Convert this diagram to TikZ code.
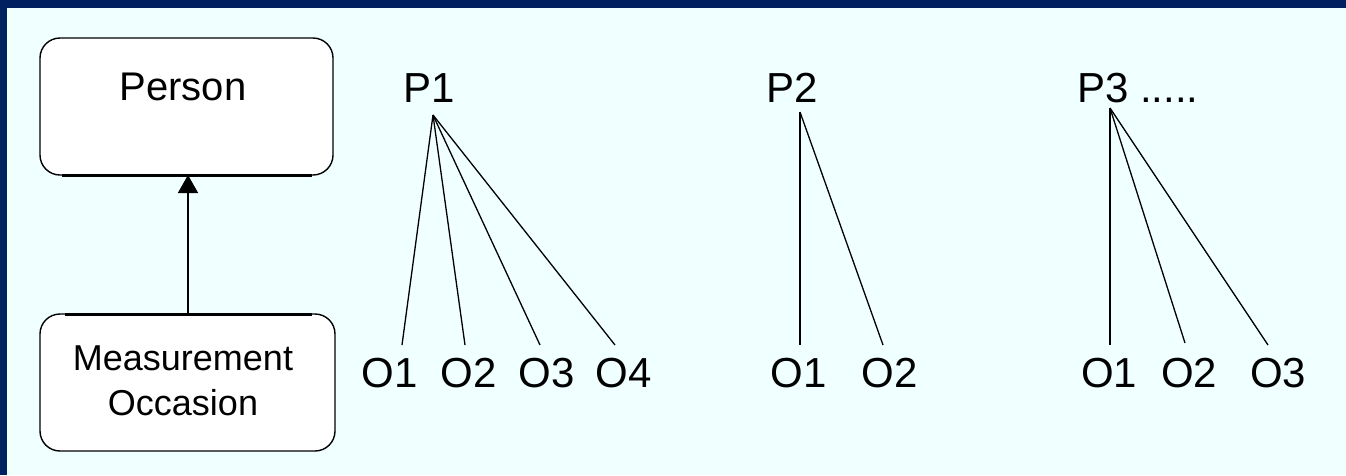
\documentclass[tikz,border=0pt]{standalone}
\usepackage{fontspec}
\setmainfont{Liberation Sans}
\usetikzlibrary{arrows.meta}
\definecolor{framenavy}{RGB}{0,32,96}
\definecolor{paleazure}{RGB}{240,255,255}
\begin{document}
\begin{tikzpicture}[x=1pt,y=-1pt,
  entity/.style={draw=black,line width=1.4pt,fill=white,rounded corners=20pt,
                 inner sep=0pt},
  boxtext/.style={font=\fontsize{36}{45}\selectfont,inner sep=0pt,align=center},
  lbl/.style={font=\fontsize{42}{46}\selectfont,inner sep=0pt,anchor=base},
  link/.style={draw=black,line width=1.3pt},
  dep/.style={draw=black,line width=1.6pt,-{Triangle[width=20pt,length=18pt]}}]

% frame and background
\fill[framenavy] (0,0) rectangle (1346,475);
\fill[paleazure] (7,8) rectangle (1346,475);
\useasboundingbox (0,0) rectangle (1346,475);

% class boxes
\node[entity,minimum width=293pt,minimum height=137pt] (person) at (186.5,106.5) {};
\node[boxtext,font=\fontsize{40}{46}\selectfont,anchor=base] (persontext) at (183,100) {Person};
\node[entity,minimum width=295pt,minimum height=137pt] (occasion) at (187.5,382.5) {};
\node[boxtext,anchor=base] (occasiontext) at (183,415) {Measurement\\Occasion};

% heavier edge where the association attaches
\draw[line width=3pt] (62,175) -- (312,175);
\draw[line width=3pt] (65,314) -- (312,314);

% association arrow
\draw[dep] (188,314) coordinate (arrfrom) -- (188,175) coordinate (arrto);

% person labels
\node[lbl] (p1) at (429,102) {P1};
\node[lbl] (p2) at (792,102) {P2};
\node[lbl,anchor=base west] (p3) at (1077,102) {P3 .....};

% occasion labels
\node[lbl] (a1) at (390,387) {O1};
\node[lbl] (a2) at (469,387) {O2};
\node[lbl] (a3) at (547,387) {O3};
\node[lbl] (a4) at (624,387) {O4};
\node[lbl] (b1) at (799,387) {O1};
\node[lbl] (b2) at (890,387) {O2};
\node[lbl] (c1) at (1109,387) {O1};
\node[lbl] (c2) at (1189,387) {O2};
\node[lbl] (c3) at (1278,387) {O3};

% fan apexes and line ends
\coordinate (p1apex) at (433,115);
\coordinate (p2apex) at (800,112);
\coordinate (p3apex) at (1110,108);
\coordinate (a1top) at (402,345);
\coordinate (a2top) at (465,345);
\coordinate (a3top) at (540,345);
\coordinate (a4top) at (615,345);
\coordinate (b1top) at (800,345);
\coordinate (b2top) at (883,345);
\coordinate (c1top) at (1110,345);
\coordinate (c2top) at (1185,343);
\coordinate (c3top) at (1268,345);

% fans
\foreach \t in {a1top,a2top,a3top,a4top} \draw[link] (p1apex) -- (\t);
\foreach \t in {b1top,b2top} \draw[link] (p2apex) -- (\t);
\foreach \t in {c1top,c2top,c3top} \draw[link] (p3apex) -- (\t);
\end{tikzpicture}
\end{document}
